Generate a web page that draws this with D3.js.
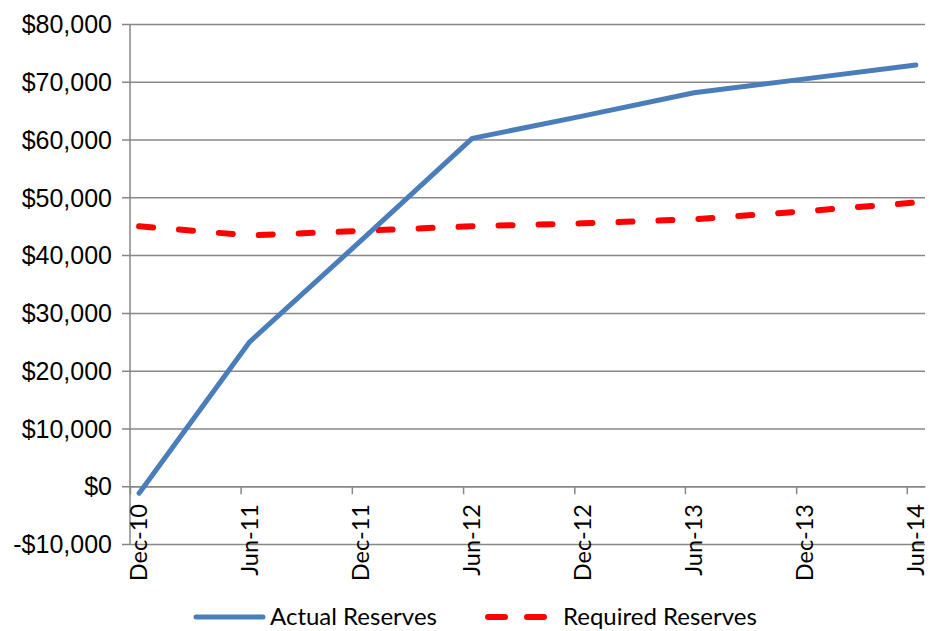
<!DOCTYPE html>
<html>
<head>
<meta charset="utf-8">
<script src="https://cdn.jsdelivr.net/npm/d3@7/dist/d3.min.js"></script>
<style>
  html, body { margin: 0; padding: 0; background: #fff; }
  svg { display: block; font-family: Lato, "Open Sans", sans-serif; }
</style>
</head>
<body>
<svg id="chart" width="930" height="631"></svg>
<script>
// Reporting periods (mid-month observations)
const periods = ["2010-12-16", "2011-06-16", "2011-12-16", "2012-06-16",
                 "2012-12-16", "2013-06-16", "2013-12-16", "2014-06-16"];
const actualReserves   = [-1200, 25000, 42500, 60200, 64100, 68100, 70500, 72900];
const requiredReserves = [45000, 43400, 44200, 45000, 45500, 46200, 47600, 49100];
const yTicks = [-10000, 0, 10000, 20000, 30000, 40000, 50000, 60000, 70000, 80000];
const xTickDates = ["2010-12-01", "2011-06-01", "2011-12-01", "2012-06-01",
                    "2012-12-01", "2013-06-01", "2013-12-01", "2014-06-01"];
const seriesNames = ["Actual Reserves", "Required Reserves"];

const parse = d3.utcParse("%Y-%m-%d");
const fmtX = d3.utcFormat("%b-%y");
const fmtY = v => (v < 0 ? "-$" : "$") + d3.format(",")(Math.abs(v));

const svg = d3.select("#chart");
const plot = { left: 130, right: 925, top: 24, bottom: 544 };
const gridColor = "#878787";
const blue = "#4a7ebb", red = "#ff0000";

const x = d3.scaleUtc()
  .domain([parse("2010-12-01"), parse("2014-07-01")])
  .range([plot.left, plot.right]);
const y = d3.scaleLinear()
  .domain([-10000, 80000])
  .range([plot.bottom, plot.top]);

// Horizontal gridlines with outside tick marks and labels
const yAxis = d3.axisLeft(y).tickValues(yTicks).tickFormat(fmtY)
  .tickSize(-(plot.right - plot.left)).tickPadding(18);
const gy = svg.append("g").attr("transform", `translate(${plot.left},0)`).call(yAxis);
gy.select(".domain").remove();
gy.selectAll(".tick line").attr("stroke", gridColor).attr("stroke-width", 1.5)
  .attr("x1", -8);
gy.selectAll(".tick text").attr("font-size", 25).attr("fill", "#000")
  .attr("dy", "0.35em");

// Vertical value axis line
svg.append("line")
  .attr("x1", plot.left).attr("x2", plot.left)
  .attr("y1", plot.top).attr("y2", plot.bottom)
  .attr("stroke", gridColor).attr("stroke-width", 1.5);

// Date axis placed on the zero line
const xAxis = d3.axisBottom(x).tickValues(xTickDates.map(parse))
  .tickFormat("").tickSize(8).tickSizeOuter(0);
const gx = svg.append("g").attr("transform", `translate(0,${y(0)})`).call(xAxis);
gx.select(".domain").attr("stroke", gridColor).attr("stroke-width", 1.5);
gx.selectAll(".tick line").attr("stroke", gridColor).attr("stroke-width", 1.5);

svg.append("g").selectAll("text")
  .data(xTickDates.map(parse))
  .join("text")
  .attr("transform", d => `translate(${x(d) + 17},504) rotate(-90)`)
  .attr("text-anchor", "end")
  .attr("font-size", 23.5)
  .attr("fill", "#000")
  .text(d => fmtX(d));

// Series lines
const dates = periods.map(parse);
const line = d3.line().x((d, i) => x(dates[i])).y(d => y(d));

svg.append("path")
  .datum(requiredReserves)
  .attr("d", line)
  .attr("fill", "none")
  .attr("stroke", red)
  .attr("stroke-width", 6)
  .attr("stroke-linecap", "round")
  .attr("stroke-dasharray", "14,26");

svg.append("path")
  .datum(actualReserves)
  .attr("d", line)
  .attr("fill", "none")
  .attr("stroke", blue)
  .attr("stroke-width", 5)
  .attr("stroke-linejoin", "round")
  .attr("stroke-linecap", "round");

// Legend
const legendY = 617;
const legend = svg.append("g").attr("font-size", 24);
legend.append("line")
  .attr("x1", 196).attr("x2", 263).attr("y1", legendY).attr("y2", legendY)
  .attr("stroke", blue).attr("stroke-width", 5).attr("stroke-linecap", "round");
legend.append("text").attr("x", 270).attr("y", legendY).attr("dy", "0.35em")
  .text(seriesNames[0]);
legend.append("line")
  .attr("x1", 488).attr("x2", 548).attr("y1", legendY).attr("y2", legendY)
  .attr("stroke", red).attr("stroke-width", 6).attr("stroke-linecap", "round")
  .attr("stroke-dasharray", "17,22");
legend.append("text").attr("x", 563).attr("y", legendY).attr("dy", "0.35em")
  .text(seriesNames[1]);
</script>
</body>
</html>
